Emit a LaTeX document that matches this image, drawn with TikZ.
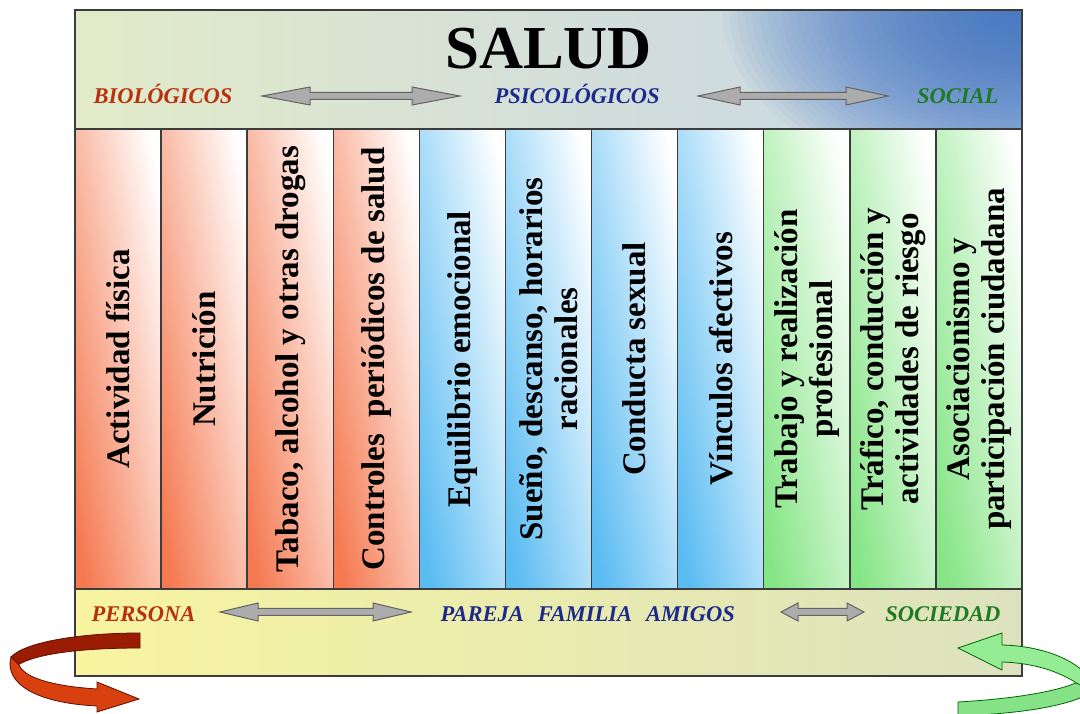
\documentclass[tikz,border=0pt]{standalone}
\usepackage{fontspec}
\setmainfont{Liberation Serif}
\usetikzlibrary{calc}
\definecolor{rojo}{HTML}{F57A52}
\definecolor{azul}{HTML}{5BBCF2}
\definecolor{verde}{HTML}{86E586}
\definecolor{borde}{HTML}{3C3C3C}
\definecolor{txtrojo}{HTML}{B8300F}
\definecolor{txtazul}{HTML}{1C2A8C}
\definecolor{txtverde}{HTML}{1E7A23}
\definecolor{cabA}{HTML}{E2EBC8}
\definecolor{cabB}{HTML}{D4DFD9}
\definecolor{cabC}{HTML}{C6D6E8}
\definecolor{cabazul}{HTML}{3A70C4}
\definecolor{pieA}{HTML}{F8F4A0}
\definecolor{pieB}{HTML}{DCE2BE}
\definecolor{cintaA}{HTML}{9A1C02}
\definecolor{cintaB}{HTML}{D8400F}
\definecolor{cintaC}{HTML}{94EC94}
\definecolor{cintaD}{HTML}{86E286}

\tikzset{
  columna/.style={draw=borde, line width=1.4pt, left color=#1, right color=white, shading angle=100},
  coltxt/.style={rotate=90, align=center, font=\bfseries\fontsize{33}{35}\selectfont},
  cat/.style={font=\bfseries\itshape\fontsize{22.5}{24}\selectfont, anchor=base west},
  flechagris/.style={fill=gray!65, draw=borde!80, line width=1pt},
  marco/.style={draw=borde, line width=1.4pt}
}
\newcommand\flechadoble[3]{%
  \filldraw[flechagris] (#1) -- ($(#1)+(#3,9)$) -- ($(#1)+(#3,3.5)$) -- ($(#2)+(-#3,3.5)$)
    -- ($(#2)+(-#3,9)$) -- (#2) -- ($(#2)+(-#3,-9)$) -- ($(#2)+(-#3,-3.5)$)
    -- ($(#1)+(#3,-3.5)$) -- ($(#1)+(#3,-9)$) -- cycle;}

\begin{document}
\begin{tikzpicture}[x=1pt, y=1pt]
\useasboundingbox (0,0) rectangle (1080,713);

\shade[left color=cabA, right color=cabC, middle color=cabB] (75,584) rectangle (1022,703);
\begin{scope}
  \clip (75,584) rectangle (1022,703);
  \foreach \r in {1,...,40}
    \fill[cabazul, opacity=0.045] (1022,703) ellipse ({7.5*\r} and {4.6*\r});
\end{scope}
\draw[marco] (75,584) rectangle (1022,703);

\shade[left color=pieA, right color=pieB] (75,37) rectangle (1022,124);
\draw[marco] (75,37) rectangle (1022,124);

\foreach \i/\c/\t in {1/rojo/{Actividad física}, 2/rojo/{Nutrición},
  3/rojo/{Tabaco, alcohol y otras drogas}, 4/rojo/{Controles\ \ periódicos de salud},
  5/azul/{Equilibrio emocional}, 6/azul/{Sueño, descanso, horarios\\racionales},
  7/azul/{Conducta sexual}, 8/azul/{Vínculos afectivos},
  9/verde/{Trabajo y realización\\profesional}, 10/verde/{Tráfico, conducción y\\actividades de riesgo},
  11/verde/{Asociacionismo y\\participación ciudadana}}
{
  \draw[columna=\c] ({75+(\i-1)*86.09},124) rectangle ({75+\i*86.09},584);
  \node[coltxt] (c\i) at ({75+(\i-0.5)*86.09},354) {\t};
}

\node[anchor=base, font=\bfseries\fontsize{61}{61}\selectfont] (salud) at (548.5,644) {SALUD};
\node[cat, txtrojo] (bio) at (90,609) {BIOLÓGICOS};
\node[cat, txtazul] (psi) at (491,609) {PSICOLÓGICOS};
\node[cat, txtverde, anchor=base east] (soc) at (1002,609) {SOCIAL};
\node[cat, txtrojo] (per) at (88,91) {PERSONA};
\node[cat, txtazul] (fam) at (437,91) {PAREJA\hspace{14pt}FAMILIA\hspace{14pt}AMIGOS};
\node[cat, txtverde, anchor=base east] (sdad) at (1004,91) {SOCIEDAD};

\coordinate (a1) at (262,617);
\coordinate (b1) at (460,617);
\coordinate (a2) at (698,617);
\coordinate (b2) at (888,617);
\coordinate (a3) at (220,101);
\coordinate (b3) at (411,101);
\coordinate (a4) at (781,101);
\coordinate (b4) at (864,101);
\flechadoble{a1}{b1}{48}
\flechadoble{a2}{b2}{42}
\flechadoble{a3}{b3}{38}
\flechadoble{a4}{b4}{17}

\filldraw[fill=cintaA, draw=cintaA!60!black, line width=0.8pt]
  (140,80) .. controls (80,80) and (25,71) .. (11,56) -- (18,48)
  .. controls (35,59) and (80,65) .. (140,65) -- cycle;
\filldraw[fill=cintaB, draw=cintaA!60!black, line width=0.8pt]
  (11,56) .. controls (4,30) and (35,10) .. (97,7) -- (97,1) -- (139,14) -- (97,31) -- (97,24)
  .. controls (50,27) and (24,36) .. (19,48) -- cycle;

\filldraw[fill=cintaD, draw=green!40!black, line width=0.8pt]
  (958,11) .. controls (1010,14) and (1060,21) .. (1082,33) -- (1095,23)
  .. controls (1070,5) and (1010,-1) .. (958,-3) -- cycle;
\filldraw[fill=cintaC, draw=green!40!black, line width=0.8pt]
  (958,65) -- (1002,80) -- (1002,68) .. controls (1045,67) and (1085,51) .. (1095,25)
  -- (1078,29) .. controls (1060,41) and (1035,50) .. (1002,51) -- (1002,43) -- cycle;
\end{tikzpicture}
\end{document}
